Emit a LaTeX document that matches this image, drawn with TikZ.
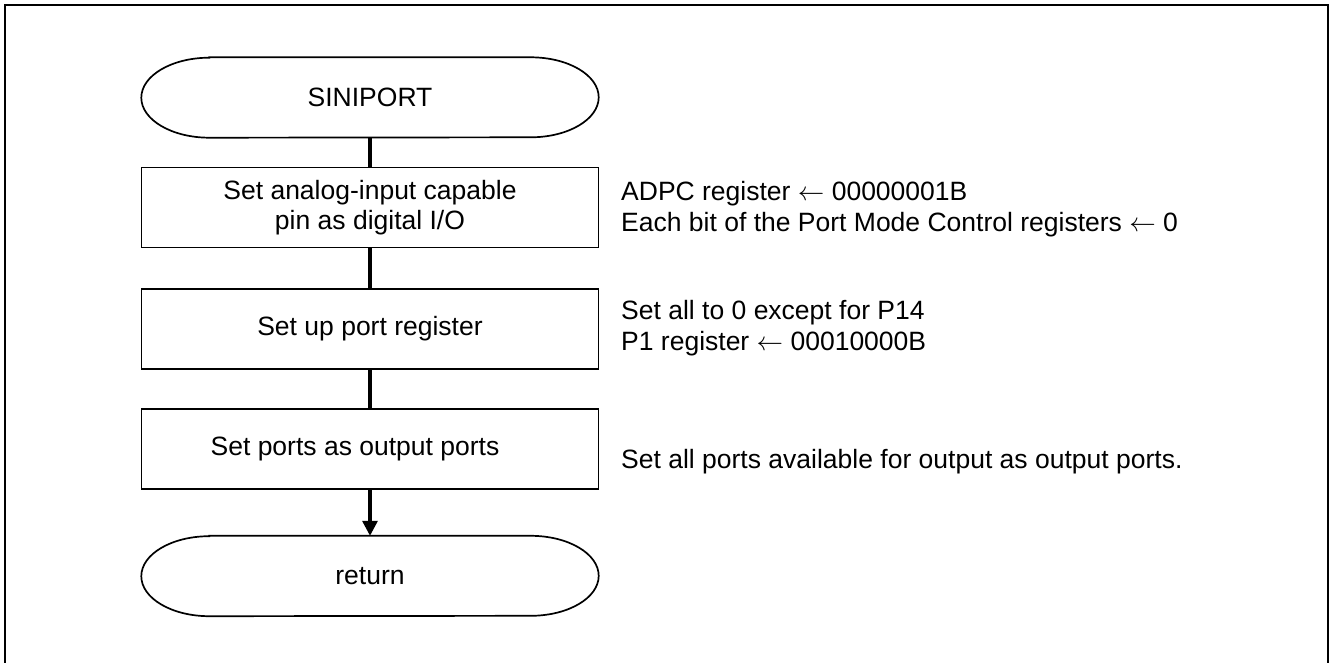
\documentclass[tikz,border=0pt]{standalone}
\usepackage{fix-cm}
\usepackage{fontspec}
\setmainfont{Liberation Sans}
\usetikzlibrary{arrows.meta}
\newcommand{\larr}{\ensuremath{\leftarrow}}
\begin{document}
\begin{tikzpicture}[x=1pt,y=-1pt,
  txt/.style={font=\fontsize{26.5}{30}\selectfont, align=center},
  proc/.style={draw, line width=1.7pt, minimum width=457pt, minimum height=80pt, inner sep=0pt, txt},
  term/.style={minimum width=457pt, minimum height=80pt, inner sep=0pt, txt},
  conn/.style={line width=3.2pt},
  note/.style={anchor=west, align=left, inner sep=0pt, font=\fontsize{26.5}{30.5}\selectfont},
  frame/.style={line width=2.8pt}]
\useasboundingbox (0,0) rectangle (1330,663);
\draw[frame] (5,663) -- (5,5) -- (1328,5) -- (1328,663);

\node[term] (start) at (370,97.5) {SINIPORT};
\node[proc] (b1) at (370,207.5) {Set analog-input capable\\pin as digital I/O};
\node[proc] (b2) at (370,329) {Set up port register};
\node[proc] (b3) at (370,449) {Set ports as output ports\hspace*{30pt}};
\node[term] (ret) at (370,576) {return};

\foreach \n in {start,ret}
  \draw[line width=1.7pt] ([xshift=68pt]\n.north west) -- ([xshift=-68pt]\n.north east)
    arc[start angle=90, end angle=-90, x radius=68pt, y radius=40pt]
    -- ([xshift=68pt]\n.south west)
    arc[start angle=270, end angle=90, x radius=68pt, y radius=40pt] -- cycle;

\draw[conn] (start.south) -- (b1.north);
\draw[conn] (b1.south) -- (b2.north);
\draw[conn] (b2.south) -- (b3.north);
\draw[conn, -{Triangle[length=15pt, width=15pt]}] (b3.south) -- (ret.north);

\node[note] (n1) at (621,209) {ADPC register \larr{} 00000001B\\Each bit of the Port Mode Control registers \larr{} 0};
\node[note] (n2) at (621,328) {Set all to 0 except for P14\\P1 register \larr{} 00010000B};
\node[note] (n3) at (621,462) {Set all ports available for output as output ports.};
\end{tikzpicture}
\end{document}
